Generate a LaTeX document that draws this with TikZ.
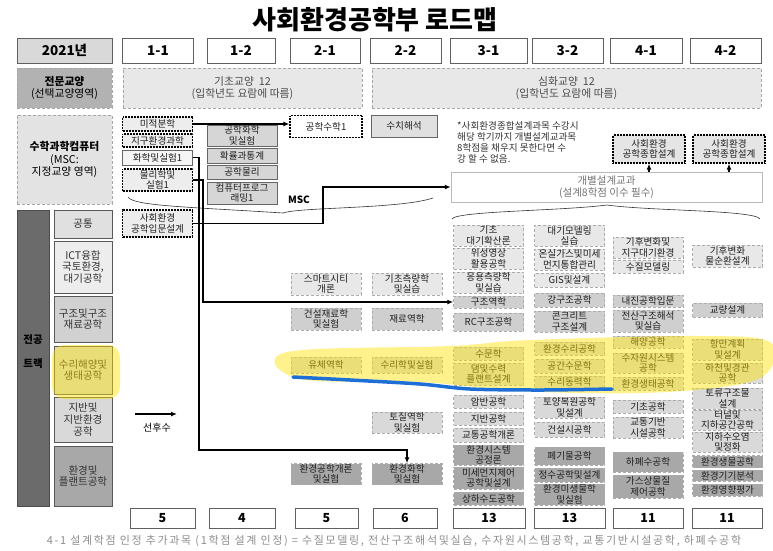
\documentclass[tikz,border=0pt]{standalone}
\usepackage{fontspec}
\setmainfont{Noto Sans CJK KR}
\usetikzlibrary{arrows.meta}

\begin{document}
\begin{tikzpicture}[x=1pt,y=-1pt,
	hdr/.style={draw=gray!75!black, line width=0.6pt, fill=white, minimum height=25,
		font=\fontsize{13.5}{15}\selectfont\bfseries},
	area/.style={draw=gray!70, densely dashed, line width=0.5pt, align=center,
		font=\fontsize{10.8}{12.8}\selectfont},
	crs/.style={draw=gray!65, densely dashed, line width=0.5pt, minimum width=70,
		inner sep=0.3pt, align=center, text=black!88, font=\fontsize{9.6}{10.3}\selectfont},
	msc/.style={crs, draw=gray!80!black, solid},
	dotbox/.style={crs, draw=black, densely dotted, line width=1.3pt, fill=black!7},
	trk/.style={draw=gray!70!black, line width=0.5pt, minimum width=58, align=center,
		text=black!80, font=\fontsize{10.5}{11.8}\selectfont},
	fICT/.style={fill=black!9},
	fST/.style={fill=black!19},
	fWR/.style={fill=black!14},
	fGE/.style={fill=black!15},
	fEN/.style={fill=black!34},
	link/.style={line width=1.6pt, black},
	arr/.style={-{Latex[length=6pt,width=5pt]}},
	]

	\useasboundingbox (0,0) rectangle (773,550);

	% title
	\node[font=\fontsize{26}{28}\selectfont\bfseries] (title) at (375,20) {사회환경공학부 로드맵};

	% semester header
	\node[hdr, fill=black!15, minimum width=95] (yr) at (64.5,50.5) {2021년};
	\node[hdr, minimum width=71] (s11) at (158,50.5) {1-1};
	\node[hdr, minimum width=68] (s12) at (241,50.5) {1-2};
	\node[hdr, minimum width=70] (s21) at (325,50.5) {2-1};
	\node[hdr, minimum width=71] (s22) at (405.5,50.5) {2-2};
	\node[hdr, minimum width=77] (s31) at (488.5,50.5) {3-1};
	\node[hdr, minimum width=71] (s32) at (567.5,50.5) {3-2};
	\node[hdr, minimum width=72] (s41) at (646,50.5) {4-1};
	\node[hdr, minimum width=71] (s42) at (725.5,50.5) {4-2};

	% liberal arts
	\node[area, fill=black!30, minimum width=95, minimum height=40] (jeonmun) at (64.5,88)
		{\textbf{전문교양}\\(선택교양영역)};
	\node[area, fill=black!9, text=black!70, minimum width=239, minimum height=40] (gicho) at (242.5,88)
		{기초교양~~12\\(입학년도 요람에 따름)};
	\node[area, fill=black!9, text=black!70, minimum width=389, minimum height=40] (simhwa) at (566.5,88)
		{심화교양~~12\\(입학년도 요람에 따름)};

	% MSC
	\node[area, fill=black!11, minimum width=95, minimum height=89] (msclabel) at (64.5,159.5)
		{\textbf{수학과학컴퓨터}\\(MSC:\\지정교양 영역)};
	\node[dotbox, minimum height=14] (mijeok) at (157.5,124) {미적분학};
	\node[dotbox, minimum height=13] (jigu) at (157.5,140.5) {지구환경과학};
	\node[msc, fill=black!4, minimum height=15] (hwahak1) at (157.5,157.5) {화학및실험1};
	\node[dotbox, minimum height=22] (mulli1) at (157.5,180) {물리학및\\실험1};
	\node[msc, fill=black!16, minimum height=21] (gonghwa) at (242,135.5) {공학화학\\및실험};
	\node[msc, fill=black!16, minimum height=15] (hwakryul) at (242,155.5) {확률과통계};
	\node[msc, fill=black!16, minimum height=14] (gongmul) at (242,172) {공학물리};
	\node[msc, fill=black!16, minimum height=22] (computer) at (242,193) {컴퓨터프로그\\래밍1};
	\node[dotbox, fill=white, minimum width=72, minimum height=22] (suhak1) at (326,126.5) {공학수학1};
	\node[msc, fill=black!12, minimum width=66, minimum height=22] (suchi) at (404,126) {수치해석};
	\node[font=\fontsize{10}{12}\selectfont\bfseries] (msctxt) at (299,200) {MSC};

	% design note
	\node[anchor=north west, align=left, text=black!80, inner sep=0pt,
		font=\fontsize{9.6}{11}\selectfont] (note) at (457,121)
		{*사회환경종합설계과목 수강시\\해당 학기까지 개별설계교과목\\8학점을 채우지 못한다면 수\\강 할 수 없음.};
	\node[dotbox, fill=black!10, minimum width=72, minimum height=28] (jonghap1) at (649,149) {사회환경\\공학종합설계};
	\node[dotbox, fill=black!10, minimum width=72, minimum height=28] (jonghap2) at (729,149) {사회환경\\공학종합설계};
	\node[draw=gray!55, line width=0.5pt, fill=white, text=black!55, align=center,
		minimum width=311, minimum height=28, font=\fontsize{10.5}{12.5}\selectfont] (gaebyeol) at (606.5,187)
		{개별설계교과\\(설계8학점 이수 필수)};

	% braces
	\draw[line width=0.6pt, black!80] (128,197) .. controls (133,206) and (190,207) .. (283,213)
		.. controls (300,207) and (400,209) .. (433,198);
	\draw[line width=0.6pt, black!80] (452,219) .. controls (456,211) and (560,211) .. (607,205)
		.. controls (650,211) and (755,210) .. (760,219);

	% major tracks
	\node[draw=gray!60!black, fill=black!58, minimum width=32, minimum height=296] (track) at (33,358) {};
	\node[font=\fontsize{10.5}{12}\selectfont\bfseries] (trackA) at (33,340) {전공};
	\node[font=\fontsize{10.5}{12}\selectfont\bfseries] (trackB) at (33,364) {트랙};
	\node[trk, fill=black!12, minimum height=28] (tGong) at (83,224) {공통};
	\node[trk, fill=black!7, minimum height=52] (tICT) at (83,267) {ICT융합\\국토환경,\\대기공학};
	\node[trk, fill=black!18, minimum height=46] (tST) at (83,319) {구조및구조\\재료공학};
	\node[trk, fill=black!15, minimum height=48] (tWR) at (83,370) {수리해양및\\생태공학};
	\node[trk, fill=black!15, minimum height=45] (tGE) at (83,419.5) {지반및\\지반환경\\공학};
	\node[trk, fill=black!34, minimum height=60] (tEN) at (83,476) {환경및\\플랜트공학};

	\node[dotbox, minimum height=27] (ipmun) at (157.5,223.5) {사회환경\\공학입문설계};

	% 2-1
	\node[crs, fICT, minimum height=22] (smart) at (326,284) {스마트시티\\개론};
	\node[crs, fST, minimum height=22] (geonjae) at (326,319) {건설재료학\\및실험};
	\node[crs, fWR, minimum height=16] (yuche) at (326,365) {유체역학};
	\node[crs, fEN, minimum height=21] (hwangae) at (326,474) {환경공학개론\\및실험};

	% 2-2
	\node[crs, fICT, minimum height=22] (chukryang) at (407,284) {기초측량학\\및실습};
	\node[crs, fST, minimum height=22] (jaeryo) at (407,319) {재료역학};
	\node[crs, fWR, minimum height=16] (suri) at (407,365) {수리학및실험};
	\node[crs, fGE, minimum height=21] (tojil) at (407,422.5) {토질역학\\및실험};
	\node[crs, fEN, minimum height=21] (hwanghwa) at (407,474) {환경화학\\및실험};

	% 3-1
	\node[crs, fICT, minimum height=21] (daegi) at (488.5,235.5) {기초\\대기확산론};
	\node[crs, fICT, minimum height=21] (wiseong) at (488.5,258.5) {위성영상\\활용공학};
	\node[crs, fICT, minimum height=21] (eungyong) at (488.5,282.5) {응용측량학\\및실습};
	\node[crs, fST, minimum height=12] (gujo) at (488.5,302) {구조역학};
	\node[crs, fST, minimum height=18] (rc) at (488.5,322) {RC구조공학};
	\node[crs, fWR, minimum height=13] (sumun) at (488.5,353.5) {수문학};
	\node[crs, fWR, minimum height=22] (daem) at (488.5,374) {댐및수력\\플랜트설계};
	\node[crs, fGE, minimum height=13] (amban) at (488.5,401.5) {암반공학};
	\node[crs, fGE, minimum height=13] (jiban) at (488.5,418.5) {지반공학};
	\node[crs, fGE, minimum height=14] (gyotong) at (488.5,435) {교통공학개론};
	\node[crs, fEN, minimum height=20] (system) at (488.5,455) {환경시스템\\공정론};
	\node[crs, fEN, minimum height=22] (misemeonji) at (488.5,478) {미세먼지제어\\공학및설계};
	\node[crs, fEN, minimum height=13] (sangha) at (488.5,498.5) {상하수도공학};

	% 3-2
	\node[crs, fICT, minimum height=21] (model) at (569.5,235.5) {대기모델링\\실습};
	\node[crs, fICT, minimum height=21] (onsil) at (569.5,259.5) {온실가스및미세\\먼지통합관리};
	\node[crs, fICT, minimum height=14] (gis) at (569.5,280) {GIS및설계};
	\node[crs, fST, minimum height=14] (ganggujo) at (569.5,300) {강구조공학};
	\node[crs, fST, minimum height=21] (concrete) at (569.5,321.5) {콘크리트\\구조설계};
	\node[crs, fWR, minimum height=13] (hwansuri) at (569.5,348.5) {환경수리공학};
	\node[crs, fWR, minimum height=14] (gonggan) at (569.5,366) {공간수문학};
	\node[crs, fWR, minimum height=12] (suridong) at (569.5,382) {수리동력학};
	\node[crs, fGE, minimum height=21] (toyang) at (569.5,407.5) {토양복원공학\\및설계};
	\node[crs, fGE, minimum height=15] (sigong) at (569.5,429.5) {건설시공학};
	\node[crs, fEN, minimum height=18] (pyegi) at (569.5,456) {폐기물공학};
	\node[crs, fEN, minimum height=14] (jeongsu) at (569.5,475) {정수공학및설계};
	\node[crs, fEN, minimum height=21] (misaeng) at (569.5,494.5) {환경미생물학\\및실험};

	% 4-1
	\node[crs, fICT, minimum height=21] (gihu1) at (648,247.5) {기후변화및\\지구대기환경};
	\node[crs, fICT, minimum height=13] (sujil) at (648,266.5) {수질모델링};
	\node[crs, fST, minimum height=12] (naejin) at (648,301) {내진공학입문};
	\node[crs, fST, minimum height=22] (jeonsan) at (648,321) {전산구조해석\\및실습};
	\node[crs, fWR, minimum height=12] (haeyang) at (648,342) {해양공학};
	\node[crs, fWR, minimum height=20] (sujawon) at (648,363) {수자원시스템\\공학};
	\node[crs, fWR, minimum height=13] (saengtae) at (648,383.5) {환경생태공학};
	\node[crs, fGE, minimum height=13] (gicho2) at (648,406.5) {기초공학};
	\node[crs, fGE, minimum height=21] (gyotong2) at (648,427.5) {교통기반\\시설공학};
	\node[crs, fEN, minimum height=20] (hapye) at (648,462) {하폐수공학};
	\node[crs, fEN, minimum height=23] (gas) at (648,486.5) {가스상물질\\제어공학};

	% 4-2
	\node[crs, fICT, minimum height=22] (gihu2) at (727.5,256) {기후변화\\물순환설계};
	\node[crs, fST, minimum height=14] (gyoryang) at (727.5,310) {교량설계};
	\node[crs, fWR, minimum height=21] (hangman) at (727.5,349.5) {항만계획\\및설계};
	\node[crs, fWR, minimum height=20] (hacheon) at (727.5,373) {하천및경관\\공학};
	\node[crs, fGE, minimum height=21] (toryu) at (727.5,398.5) {토류구조물\\설계};
	\node[crs, fGE, minimum height=18] (tunnel) at (727.5,420) {터널및\\지하공간공학};
	\node[crs, fGE, minimum height=20] (jiha) at (727.5,442) {지하수오염\\및정화};
	\node[crs, fEN, minimum height=12] (saengmul) at (727.5,461.5) {환경생물공학};
	\node[crs, fEN, minimum height=11] (gigi) at (727.5,475.5) {환경기기분석};
	\node[crs, fEN, minimum height=12] (yeonghyang) at (727.5,490) {환경영향평가};

	% design credits per semester
	\node[hdr, minimum width=65, minimum height=20, font=\fontsize{12.5}{14}\selectfont\bfseries] (cr11) at (162.5,518) {5};
	\node[hdr, minimum width=66, minimum height=20, font=\fontsize{12.5}{14}\selectfont\bfseries] (cr12) at (242,518) {4};
	\node[hdr, minimum width=63, minimum height=20, font=\fontsize{12.5}{14}\selectfont\bfseries] (cr21) at (326.5,518) {5};
	\node[hdr, minimum width=64, minimum height=20, font=\fontsize{12.5}{14}\selectfont\bfseries] (cr22) at (405,518) {6};
	\node[hdr, minimum width=72, minimum height=20, font=\fontsize{12.5}{14}\selectfont\bfseries] (cr31) at (489,518) {13};
	\node[hdr, minimum width=71, minimum height=20, font=\fontsize{12.5}{14}\selectfont\bfseries] (cr32) at (569.5,518) {13};
	\node[hdr, minimum width=70, minimum height=20, font=\fontsize{12.5}{14}\selectfont\bfseries] (cr41) at (648,518) {11};
	\node[hdr, minimum width=70, minimum height=20, font=\fontsize{12.5}{14}\selectfont\bfseries] (cr42) at (727,518) {11};

	\node[text=black!45, font=\fontsize{11}{12}\selectfont\addfontfeatures{LetterSpace=15}] (foot) at (394,541)
		{4-1 설계학점 인정 추가과목 (1학점 설계 인정) = 수질모델링, 전산구조해석및실습, 수자원시스템공학, 교통기반시설공학, 하폐수공학};

	% prerequisite links
	\coordinate (bendA) at (199,450);
	\coordinate (bendB) at (203,302);
	\coordinate (bendC) at (323,187);
	\draw[link, arr] (mijeok.east) -- (mijeok.east -| suhak1.west);
	\draw[link, arr] (hwahak1.east) -| (bendA) -| (hwanghwa.north);
	\draw[link, arr] (mulli1.east) -| (bendB) -- (gujo.west);
	\draw[link, arr] (ipmun.east) -| (bendC) -- (gaebyeol.west);
	\draw[link, arr, line width=1.3pt] (gaebyeol.north -| jonghap1) -- (jonghap1.south);
	\draw[link, arr, line width=1.3pt] (gaebyeol.north -| jonghap2) -- (jonghap2.south);

	% legend
	\coordinate (legA) at (135,414);
	\coordinate (legB) at (177,414);
	\draw[link, arr, line width=1.3pt] (legA) -- (legB);
	\node[font=\fontsize{10}{12}\selectfont] (legtxt) at (157,428) {선후수};

	% highlighter marks
	\fill[yellow!85!orange, opacity=0.45, rounded corners=12pt] (52,345) rectangle (120,399);
	\fill[yellow!85!orange, opacity=0.45] plot[smooth cycle, tension=0.6] coordinates
		{(287,352) (450,346) (530,340) (700,336) (770,342) (768,372) (730,386)
		 (640,393) (520,391) (420,382) (300,379)};
	\draw[line width=3.5pt, color={rgb,255:red,30;green,110;blue,215}, line cap=round]
		plot[smooth, tension=0.5] coordinates {(293,377) (350,380) (420,384) (470,389) (540,390) (612,389)};

\end{tikzpicture}
\end{document}
